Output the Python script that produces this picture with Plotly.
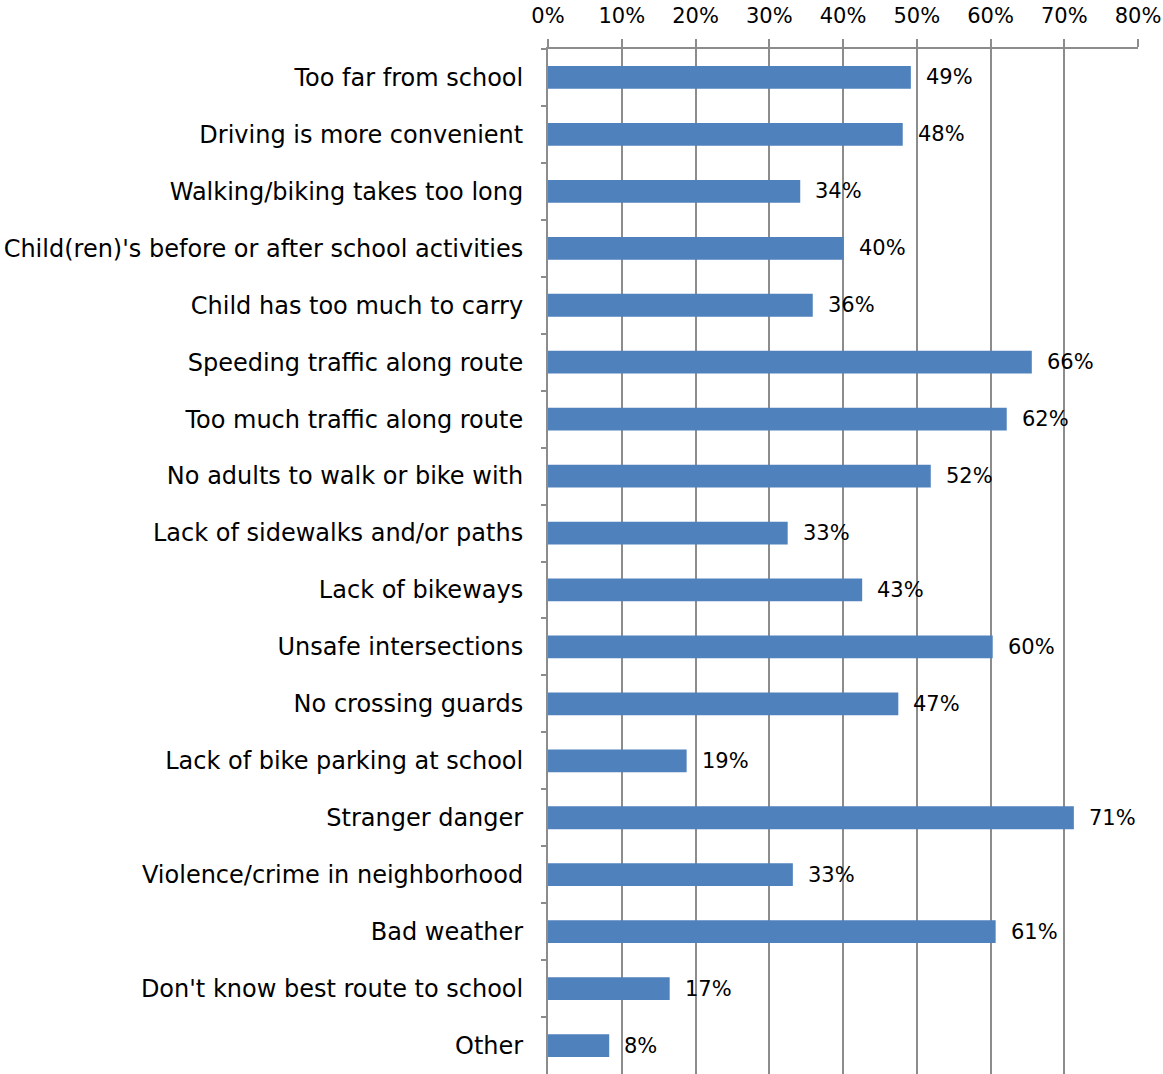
import plotly.graph_objects as go

categories = [
    "Too far from school",
    "Driving is more convenient",
    "Walking/biking takes too long",
    "Child(ren)'s before or after school activities",
    "Child has too much to carry",
    "Speeding traffic along route",
    "Too much traffic along route",
    "No adults to walk or bike with",
    "Lack of sidewalks and/or paths",
    "Lack of bikeways",
    "Unsafe intersections",
    "No crossing guards",
    "Lack of bike parking at school",
    "Stranger danger",
    "Violence/crime in neighborhood",
    "Bad weather",
    "Don't know best route to school",
    "Other",
]
values = [49.2, 48.1, 34.2, 40.1, 35.9, 65.6, 62.2, 51.9, 32.5, 42.6,
          60.3, 47.5, 18.8, 71.3, 33.2, 60.7, 16.5, 8.3]
labels = ["49%", "48%", "34%", "40%", "36%", "66%", "62%", "52%", "33%", "43%",
          "60%", "47%", "19%", "71%", "33%", "61%", "17%", "8%"]
tick_vals = [0, 10, 20, 30, 40, 50, 60, 70, 80]
tick_text = ["0%", "10%", "20%", "30%", "40%", "50%", "60%", "70%", "80%"]

FONT = "DejaVu Sans"

fig = go.Figure()
fig.add_trace(go.Bar(
    y=categories, x=values, orientation="h",
    marker=dict(color="#4F81BD", line=dict(width=0)),
    width=0.4, hoverinfo="skip",
))

for c, v, t in zip(categories, values, labels):
    fig.add_annotation(x=v, y=c, text=t, showarrow=False, xanchor="left",
                       xshift=13, font=dict(family=FONT, size=21, color="black"))

fig.update_layout(
    width=1163, height=1074,
    margin=dict(l=548, r=25, t=49, b=0),
    plot_bgcolor="white", paper_bgcolor="white",
    showlegend=False,
    font=dict(family=FONT, size=20, color="black"),
    xaxis=dict(
        side="top", range=[0, 80], tickvals=tick_vals, ticktext=tick_text,
        showgrid=True, gridcolor="#8C8C8C", gridwidth=2,
        showline=True, linecolor="#8C8C8C", linewidth=2,
        ticks="outside", ticklen=8, tickcolor="#8C8C8C", tickwidth=2,
        tickfont=dict(family=FONT, size=21, color="black"),
        ticklabelstandoff=8,
        zeroline=False, fixedrange=True,
    ),
    yaxis=dict(
        autorange="reversed", type="category",
        showline=True, linecolor="#8C8C8C", linewidth=2,
        ticks="outside", ticklen=5, tickcolor="#8C8C8C", tickwidth=2,
        tickson="boundaries",
        tickfont=dict(family=FONT, size=24, color="black"),
        ticklabelstandoff=18,
        showgrid=False, fixedrange=True,
    ),
)

fig.write_html(
    "out.html",
    config={"displayModeBar": False, "staticPlot": True},
    post_script="document.body.style.margin='0';document.body.style.overflow='hidden';",
)
